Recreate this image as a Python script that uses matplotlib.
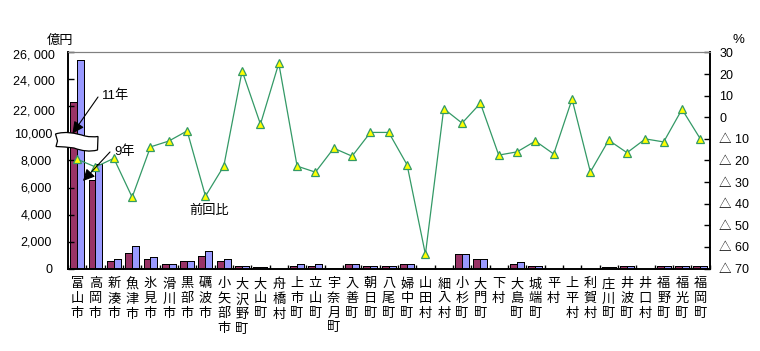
#!/usr/bin/env python3
# plot.py
import matplotlib
matplotlib.use("Agg")
import matplotlib.pyplot as plt
from matplotlib.path import Path
from matplotlib.patches import PathPatch
import numpy as np

plt.rcParams['font.family'] = ['Liberation Sans', 'Noto Sans CJK JP', 'DejaVu Sans']

W, H = 760, 351

towns = ["富山市", "高岡市", "新湊市", "魚津市", "氷見市", "滑川市", "黒部市", "礪波市",
         "小矢部市", "大沢野町", "大山町", "舟橋村", "上市町", "立山町", "宇奈月町", "入善町",
         "朝日町", "八尾町", "婦中町", "山田村", "細入村", "小杉町", "大門町", "下村",
         "大島町", "城端町", "平村", "上平村", "利賀村", "庄川町", "井波町", "井口村",
         "福野町", "福光町", "福岡町"]

# heights as drawn on the broken axis (the top of the scale is cut, see y labels)
y09 = [12300, 6520, 590, 1185, 670, 370, 590, 890, 520, 220, 75, 0, 220, 220, 70, 300,
       150, 150, 300, 0, 0, 1040, 740, 0, 370, 150, 0, 0, 0, 75, 150, 0, 220, 220, 220]
y11 = [15430, 7725, 670, 1700, 815, 370, 590, 1260, 670, 150, 75, 0, 300, 300, 70, 370,
       150, 150, 370, 0, 0, 1040, 670, 0, 445, 150, 0, 0, 0, 75, 150, 0, 220, 220, 220]
ratio = [-19.4, -23, -19, -37, -13.7, -11, -6.3, -36.5, -22.6, 21.5, -3.2, 25, -22.6, -25.4,
         -14.3, -18, -7, -7, -22, -63.4, 4, -2.7, 6.5, -17.5, -16, -11, -17, 8.4, -25.3,
         -10.6, -16.4, -10, -11.4, 3.7, -10]

left_ticks = [0, 2000, 4000, 6000, 8000, 10000, 12000, 14000, 16000]
left_labels = ["0", "2,000", "4,000", "6,000", "8,000", "10,000", "", "", ""]
right_ticks = [30, 20, 10, 0, -10, -20, -30, -40, -50, -60, -70]
right_labels = ["30", "20", "10", "0", "△ 10", "△ 20", "△ 30", "△ 40", "△ 50", "△ 60", "△ 70"]


def px(x, y):
    """Pixel position in the picture -> figure fraction."""
    return x / W, 1 - y / H


fig = plt.figure(figsize=(W / 100, H / 100), dpi=100)
x0, x1, ytop, ybot = 68, 709.5, 52.5, 268.5
ax = fig.add_axes([x0 / W, 1 - ybot / H, (x1 - x0) / W, (ybot - ytop) / H])

x = np.arange(len(towns))
bw = 0.38
ax.bar(x - bw / 2, y09, bw, color="#993366", edgecolor="black", linewidth=0.72, antialiased=False)
ax.bar(x + bw / 2, y11, bw, color="#9999FF", edgecolor="black", linewidth=0.72, antialiased=False)
ax.set_xlim(-0.5, len(towns) - 0.5)
ax.set_ylim(0, 16000)
ax.set_yticks(left_ticks)
ax.set_yticklabels(left_labels, fontsize=9)
ax.set_xticks(x)
ax.set_xticklabels(["\n".join(t) for t in towns], fontsize=9.5, linespacing=1.3)
ax.set_xticks(np.arange(-0.5, len(towns)), minor=True)
ax.tick_params(axis="x", which="major", length=0, pad=7)
ax.tick_params(axis="x", which="minor", direction="in", length=3, width=1)
ax.tick_params(axis="y", direction="in", length=4, width=1, pad=11.5)

ax2 = ax.twinx()
ax2.plot(x, ratio, color="#339966", linewidth=0.9, marker="^", markersize=5.5,
         markerfacecolor="#FFFF00", markeredgecolor="#339966", markeredgewidth=0.9)
ax2.set_ylim(-70, 30)
ax2.set_yticks(right_ticks)
ax2.set_yticklabels(right_labels, fontsize=9)
ax2.tick_params(axis="y", direction="in", length=4, width=1, pad=7)

for a in (ax, ax2):
    a.spines["top"].set_color("#808080")
    a.spines["left"].set_linewidth(1.2)
    a.spines["right"].set_linewidth(1.2)
    a.spines["bottom"].set_linewidth(1.2)

# pasted labels of the upper, cut part of the left scale
for label, yy in [("26, 000", 56), ("24, 000", 82), ("22, 000", 111)]:
    fig.text(*px(55, yy), label, ha="right", va="center", fontsize=9)
fig.text(*px(60.5, 41), "億円", ha="center", va="center", fontsize=9.5)
fig.text(*px(738, 40), "%", ha="center", va="center", fontsize=9.5)

# white wavy band that marks the axis break
band = [(55.5, 134),
        (65, 131), (75, 133), (85, 136), (90, 137), (94, 137), (98, 136.5),
        (97.5, 150),
        (90, 152), (82, 151), (74, 148), (68, 147), (62, 147), (56, 146.5),
        (57.5, 141), (55.5, 134)]
codes = [Path.MOVETO,
         Path.CURVE4, Path.CURVE4, Path.CURVE4, Path.CURVE4, Path.CURVE4, Path.CURVE4,
         Path.LINETO,
         Path.CURVE4, Path.CURVE4, Path.CURVE4, Path.CURVE4, Path.CURVE4, Path.CURVE4,
         Path.LINETO, Path.CLOSEPOLY]
verts = [px(*p) for p in band]
fig.add_artist(PathPatch(Path(verts, codes), transform=fig.transFigure, facecolor="white",
                         edgecolor="black", linewidth=0.9, zorder=5))

# leader arrows and their captions
for text, start, end, tpos in [("11年", (98, 97), (72.5, 133.5), (116, 96)),
                               ("9年", (110, 152), (83, 181), (125, 152))]:
    ax2.annotate("", xy=px(*end), xytext=px(*start), xycoords="figure fraction",
                 textcoords="figure fraction", zorder=6, annotation_clip=False,
                 arrowprops=dict(arrowstyle="-|>,head_length=0.7,head_width=0.35",
                                 color="black", linewidth=0.8, shrinkA=0, shrinkB=0))
    fig.text(*px(*tpos), text, ha="center", va="center", fontsize=9.5, zorder=6)
fig.text(*px(209.5, 211), "前回比", ha="center", va="center", fontsize=9.5)

fig.savefig("out.png", dpi=100)
